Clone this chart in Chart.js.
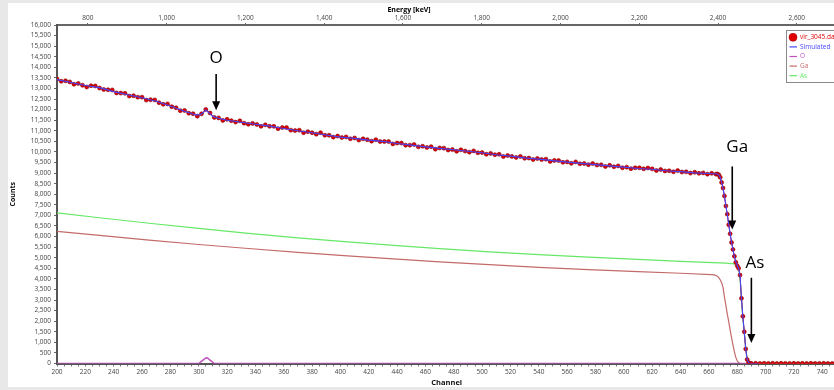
<!DOCTYPE html>
<html><head><meta charset="utf-8">
<script src="https://cdn.jsdelivr.net/npm/chart.js@4.4.1/dist/chart.umd.min.js"></script>
<style>
html,body{margin:0;padding:0;background:#e8e8e8;width:834px;height:390px;overflow:hidden;}
#panel{position:absolute;left:8px;top:3px;width:826px;height:384px;background:#fff;overflow:hidden;}
canvas{display:block;}
</style></head><body>
<div id="panel"><canvas id="c" width="833" height="384"></canvas></div>
<script>
// ---- measured spectrum (vir_3045.dat) ----
const measChannels = [
200,203,206,209,212,215,218,221,224,227,230,233,236,239,242,245,248,251,254,257,
260,263,266,269,272,275,278,281,284,287,290,293,296,299,302,305,308,311,314,317,
320,323,326,329,332,335,338,341,344,347,350,353,356,359,362,365,368,371,374,377,
380,383,386,389,392,395,398,401,404,407,410,413,416,419,422,425,428,431,434,437,
440,443,446,449,452,455,458,461,464,467,470,473,476,479,482,485,488,491,494,497,
500,503,506,509,512,515,518,521,524,527,530,533,536,539,542,545,548,551,554,557,
560,563,566,569,572,575,578,581,584,587,590,593,596,599,602,605,608,611,614,617,
620,623,626,629,632,635,638,641,644,647,650,653,656,659,662,665,
666,667,668,669,670,671,672,673,674,675,676,677,678,679,680,681,682,683,684,685,
686,687,688,689,690,693,696,699,702,705,708,711,714,717,720,723,726,729,732,735,
738,741,744,747,750];
const measCounts = [
13450,13340,13360,13310,13200,13240,13150,13070,13130,13120,13020,12950,12940,12930,12790,12780,12770,12640,12660,12590,
12590,12450,12470,12460,12330,12250,12270,12140,12090,11950,11960,11830,11810,11690,11800,12010,11840,11630,11610,11490,
11540,11480,11410,11470,11360,11310,11350,11300,11210,11280,11210,11210,11100,11150,11150,11030,11010,11030,10910,10960,
10910,10840,10910,10790,10790,10700,10750,10680,10710,10620,10660,10560,10620,10580,10510,10580,10490,10490,10490,10380,
10420,10420,10320,10320,10350,10240,10270,10210,10250,10130,10190,10180,10090,10110,10030,10100,10040,9990,10050,9960,
9970,9890,9930,9870,9890,9780,9830,9790,9740,9790,9700,9710,9640,9690,9640,9660,9550,9600,9590,9510,
9530,9460,9530,9440,9450,9400,9450,9380,9390,9310,9370,9300,9340,9250,9280,9210,9250,9250,9200,9240,
9200,9120,9170,9100,9110,9060,9120,9050,9060,9000,9040,8990,9010,8950,8990,8950,
8960,8920,8800,8560,8290,7920,7450,7060,6560,6130,5720,5390,5070,4780,4620,4500,4180,3080,2230,1500,
690,190,45,12,5,8,3,10,4,7,2,9,5,3,8,4,6,2,7,5,
3,6,4,2,5];

// ---- simulated spectrum ----
const simChannels = [200,210,220,230,240,250,260,270,280,290,298,301,303,305,307,310,314,320,330,340,
350,360,370,380,390,400,410,420,430,440,450,460,470,480,490,500,510,520,530,540,
550,560,570,580,590,600,610,620,630,640,650,660,666,667,668,669,670,671,672,673,
674,675,676,677,678,679,680,681,682,683,684,685,686,687,688,689,690,695];
const simCounts = [13420,13280,13140,13040,12850,12700,12560,12400,12170,11920,11750,11760,11850,11980,11870,11680,11590,11500,11400,11310,
11220,11110,11000,10910,10800,10700,10640,10560,10500,10400,10320,10240,10170,10100,10030,9960,9870,9800,9720,9660,
9590,9520,9460,9400,9340,9280,9220,9180,9110,9070,9010,8980,8960,8920,8800,8570,8280,7900,7460,7040,
6580,6140,5740,5390,5080,4800,4640,4500,4150,3100,2200,1480,700,200,50,10,0,0];

// ---- elemental contributions ----
const oChannels = [200,300,303,305,306,308,311,750];
const oCounts   = [0,0,160,265,275,160,0,0];

const gaChannels = [200,230,265,300,335,370,405,440,470,505,540,575,610,640,662,664,666,667,668,669,
670,671,672,673,674,675,676,677,678,679,680,681,682,683,750];
const gaCounts   = [6250,6060,5830,5625,5435,5255,5085,4930,4805,4670,4545,4440,4345,4265,4205,4190,4130,4060,3960,3820,
3600,3150,2750,2350,1980,1600,1220,880,560,290,130,45,10,0,0];

const asChannels = [200,230,265,300,335,370,405,440,470,505,540,575,610,640,672,680,681,682,683,684,
685,686,687,688,689,690,750];
const asCounts   = [7120,6890,6630,6385,6155,5940,5745,5570,5430,5280,5145,5025,4920,4830,4745,4700,4550,4000,3000,2080,
1450,750,250,60,10,0,0];

// ---- axes ----
const channelRange = [200, 750];
const channelLabelStep = 20;
const energyRange  = [721.7, 2700.6];   // keV at channel 200 and 750
const energyTicks  = [800, 1000, 1200, 1400, 1600, 1800, 2000, 2200, 2400, 2600];
const countsRange  = [0, 16000];

const seriesLabels = ['vir_3045.dat','Simulated','O','Ga','As'];
const seriesColors = ['#e00000','#4646ff','#c050c0','#c46a6a','#66e866'];

// annotations: label, arrow channel, label position, arrow from/to (counts)
const annLabels = ['O','Ga','As'];
const annChannel = [312.3, 676.5, 690];
const annTextCh = [312.3, 680, 692.5];
const annTextY = [14420, 10216, 4765];
const annFrom = [13680, 9316, 4053];
const annTo = [11971, 6329, 972];

const pts = (xs, ys) => xs.map((x, i) => ({x: x, y: ys[i]}));
const FONT = '"Open Sans", "Noto Sans", sans-serif';

const annotPlugin = {
  id: 'annot',
  afterDatasetsDraw(chart) {
    const ctx = chart.ctx, xs = chart.scales.x, ys = chart.scales.y;
    ctx.save();
    ctx.fillStyle = '#000'; ctx.strokeStyle = '#000';
    ctx.font = '17px ' + FONT;
    ctx.textAlign = 'center'; ctx.textBaseline = 'middle';
    for (let i = 0; i < annLabels.length; i++) {
      const tx = xs.getPixelForValue(annTextCh[i]);
      ctx.fillText(annLabels[i], tx, ys.getPixelForValue(annTextY[i]));
      const ax = xs.getPixelForValue(annChannel[i]);
      const y1 = ys.getPixelForValue(annFrom[i]);
      const y2 = ys.getPixelForValue(annTo[i]);
      ctx.lineWidth = 1.6;
      ctx.beginPath(); ctx.moveTo(ax, y1); ctx.lineTo(ax, y2 - 7); ctx.stroke();
      ctx.beginPath(); ctx.moveTo(ax - 4, y2 - 9); ctx.lineTo(ax + 4, y2 - 9); ctx.lineTo(ax, y2); ctx.closePath(); ctx.fill();
    }
    // top axis title
    ctx.font = 'bold 7px ' + FONT;
    ctx.fillText('Energy [keV]', xs.getPixelForValue(448.4), 6.5);
    ctx.restore();
  }
};

const legendPlugin = {
  id: 'boxLegend',
  afterDraw(chart) {
    const ctx = chart.ctx;
    const bx = 778, by = 27.5, bw = 80, bh = 52;
    ctx.save();
    ctx.fillStyle = '#fff'; ctx.fillRect(bx, by, bw, bh);
    ctx.strokeStyle = '#8a8a8a'; ctx.lineWidth = 1;
    ctx.strokeRect(bx + 0.5, by, bw, bh);
    ctx.font = '6.5px ' + FONT; ctx.textBaseline = 'middle'; ctx.textAlign = 'left';
    for (let i = 0; i < seriesLabels.length; i++) {
      const y = by + 6.8 + i * 9.6;
      ctx.strokeStyle = seriesColors[i]; ctx.fillStyle = seriesColors[i];
      if (i === 0) {
        ctx.beginPath(); ctx.arc(785, y, 4, 0, Math.PI * 2); ctx.fill();
        ctx.strokeStyle = '#a00000'; ctx.lineWidth = 0.6; ctx.stroke();
      } else {
        ctx.lineWidth = 1.2;
        ctx.beginPath(); ctx.moveTo(781.5, y); ctx.lineTo(789, y); ctx.stroke();
      }
      ctx.fillStyle = seriesColors[i];
      ctx.fillText(seriesLabels[i], 792, y);
    }
    ctx.restore();
  }
};

const tickFont = {family: FONT, size: 6.5};
new Chart(document.getElementById('c'), {
  type: 'line',
  data: {
    datasets: [
      {label: seriesLabels[0], data: pts(measChannels, measCounts), borderColor: seriesColors[0], borderWidth: 1,
       pointRadius: 2, pointBackgroundColor: '#dd0000', pointBorderColor: '#8b0000', pointBorderWidth: 0.6, order: 1},
      {label: seriesLabels[1], data: pts(simChannels, simCounts), borderColor: seriesColors[1], borderWidth: 1.1,
       pointRadius: 0, order: 0},
      {label: seriesLabels[2], data: pts(oChannels, oCounts), borderColor: seriesColors[2], borderWidth: 1.5,
       pointRadius: 0, order: 3},
      {label: seriesLabels[3], data: pts(gaChannels, gaCounts), borderColor: seriesColors[3], borderWidth: 1.2,
       pointRadius: 0, order: 4},
      {label: seriesLabels[4], data: pts(asChannels, asCounts), borderColor: seriesColors[4], borderWidth: 1.2,
       pointRadius: 0, order: 5}
    ]
  },
  options: {
    responsive: false, animation: false, devicePixelRatio: 1,
    layout: {padding: 0},
    plugins: {legend: {display: false}, tooltip: {enabled: false}},
    elements: {line: {tension: 0}},
    scales: {
      x: {
        type: 'linear', position: 'bottom', min: channelRange[0], max: channelRange[1],
        ticks: {stepSize: 5, includeBounds: false, font: tickFont, color: '#444', padding: 2, maxRotation: 0, autoSkip: false,
          callback: (v) => (Math.round(v) % channelLabelStep === 0 ? String(Math.round(v)) : '')},
        grid: {drawOnChartArea: false, drawTicks: true, tickLength: 3, color: '#777'},
        border: {display: true, color: '#555', width: 2},
        title: {display: true, text: 'Channel', font: {family: FONT, size: 7.5, weight: 'bold'}, color: '#111', padding: 0},
        afterFit(s) { s.height = 23.5; }
      },
      x2: {
        type: 'linear', position: 'top', min: energyRange[0], max: energyRange[1],
        ticks: {font: tickFont, color: '#444', padding: 1, maxRotation: 0, autoSkip: false},
        afterBuildTicks(s) { s.ticks = energyTicks.map(v => ({value: v})); },
        grid: {drawOnChartArea: false, drawTicks: true, tickLength: 2, color: '#666'},
        border: {display: true, color: '#666', width: 2},
        afterFit(s) { s.height = 22; }
      },
      y: {
        type: 'linear', min: countsRange[0], max: countsRange[1],
        ticks: {stepSize: 500, font: tickFont, color: '#444', padding: 3, autoSkip: false},
        grid: {drawOnChartArea: false, drawTicks: true, tickLength: 3, color: '#666'},
        border: {display: true, color: '#555', width: 2},
        title: {display: true, text: 'Counts', font: {family: FONT, size: 7, weight: 'bold'}, color: '#111', padding: {top: 1, bottom: 0}},
        afterFit(s) { s.width = 49; }
      }
    }
  },
  plugins: [annotPlugin, legendPlugin]
});
</script>
</body></html>
